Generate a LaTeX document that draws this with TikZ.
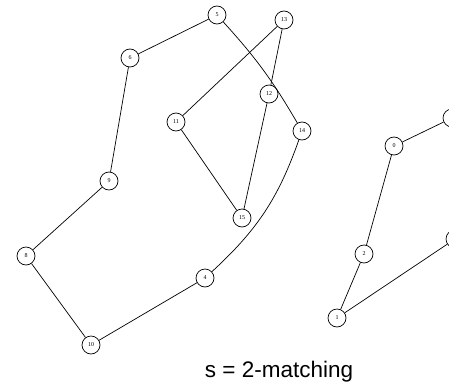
\documentclass[tikz,border=0pt]{standalone}
\usepackage{fontspec}
\setmainfont{Liberation Serif}
\newfontfamily\captionfont{Liberation Sans}
\usepackage{tikz}

\begin{document}
\begin{tikzpicture}[x=1pt, y=-1pt, line width=0.7pt,
	vertex/.style={draw, circle, minimum size=18pt, inner sep=0pt, font=\fontsize{6}{7}\selectfont}]
	\useasboundingbox (0,0) rectangle (449,388);
	% left component
	\node[vertex] (v5) at (217,15) {5};
	\node[vertex] (v13) at (284,20) {13};
	\node[vertex] (v6) at (130,58) {6};
	\node[vertex] (v12) at (269,94) {12};
	\node[vertex] (v11) at (176,122) {11};
	\node[vertex] (v14) at (302,131) {14};
	\node[vertex] (v9) at (109,181) {9};
	\node[vertex] (v15) at (242,218) {15};
	\node[vertex] (v8) at (26,256) {8};
	\node[vertex] (v4) at (205,278) {4};
	\node[vertex] (v10) at (91,345) {10};
	% right component
	\node[vertex] (v0) at (394,146) {0};
	\node[vertex] (v2) at (364,254) {2};
	\node[vertex] (v1) at (337,318) {1};
	\node[vertex] (v3) at (452,118) {};
	\node[vertex] (v7) at (455,239) {};
	\draw (v5) -- (v6) -- (v9) -- (v8) -- (v10) -- (v4);
	\draw (v4) to[bend right=14] (v14);
	\draw (v5) to[bend left=6] (v14);
	\draw (v13) -- (v11) -- (v15) -- (v12) -- (v13);
	\draw (v3) -- (v0) -- (v2) -- (v1) -- (v7);
	\node[font=\captionfont\fontsize{22.5}{26}\selectfont] (cap) at (279,372) {s = 2-matching};
\end{tikzpicture}
\end{document}
